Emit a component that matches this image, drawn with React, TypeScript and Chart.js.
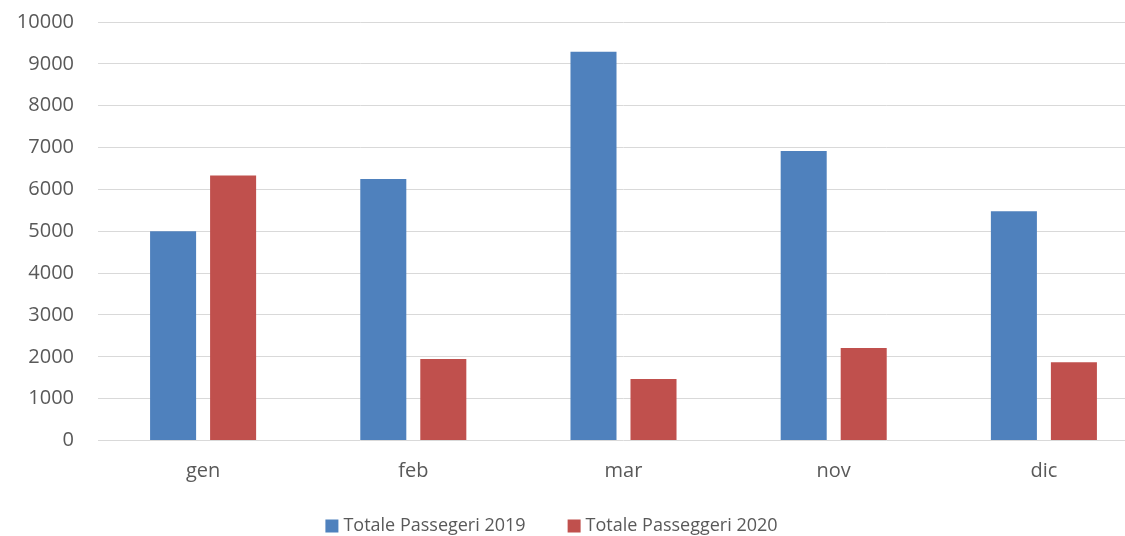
import React, { useEffect, useRef } from "react";
import { Chart, registerables } from "chart.js";

Chart.register(...registerables);

const categories = ["gen", "feb", "mar", "nov", "dic"];
const series2019 = [5000, 6250, 9290, 6920, 5480];
const series2020 = [6330, 1950, 1470, 2210, 1870];
const seriesNames = ["Totale Passegeri 2019", "Totale Passeggeri 2020"];
const seriesColors = ["#4f81bd", "#c0504d"];
const yMin = 0;
const yMax = 10000;
const yStep = 1000;

const FONT_FAMILY = "'Open Sans', sans-serif";
const SHIFT = 14;

const bottomLegend = {
  id: "bottomLegend",
  afterDraw(chart: any) {
    const ctx = chart.ctx as CanvasRenderingContext2D;
    const size = 18;
    const box = 13;
    const boxGap = 5;
    const itemGap = 42;
    const centerX = 551.5;
    const centerY = 526 + SHIFT;
    ctx.save();
    ctx.font = `${size}px ${FONT_FAMILY}`;
    const items = chart.data.datasets.map((d: any) => ({
      label: d.label as string,
      color: d.backgroundColor as string,
      w: box + boxGap + ctx.measureText(d.label).width,
    }));
    const total = items.reduce((a: number, it: any) => a + it.w, 0) + itemGap * (items.length - 1);
    let x = centerX - total / 2;
    ctx.textBaseline = "middle";
    ctx.textAlign = "left";
    for (const it of items) {
      ctx.fillStyle = it.color;
      ctx.fillRect(x, centerY - box / 2, box, box);
      ctx.fillStyle = "#595959";
      ctx.fillText(it.label, x + box + boxGap, centerY);
      x += it.w + itemGap;
    }
    ctx.restore();
  },
};

export default function App() {
  const ref = useRef<HTMLCanvasElement | null>(null);
  useEffect(() => {
    document.body.style.margin = "0";
    document.body.style.overflow = "hidden";
    const ctx = ref.current!;
    const tickFont = { family: FONT_FAMILY, size: 20 };
    const chart = new Chart(ctx, {
      type: "bar",
      data: {
        labels: categories,
        datasets: [
          {
            label: seriesNames[0],
            data: series2019,
            backgroundColor: seriesColors[0],
            categoryPercentage: 0.571,
            barPercentage: 0.767,
          },
          {
            label: seriesNames[1],
            data: series2020,
            backgroundColor: seriesColors[1],
            categoryPercentage: 0.571,
            barPercentage: 0.767,
          },
        ],
      },
      plugins: [bottomLegend],
      options: {
        animation: false,
        responsive: false,
        maintainAspectRatio: false,
        layout: { padding: { top: 0, right: 0, bottom: 0, left: 0 } },
        plugins: {
          tooltip: { enabled: false },
          legend: { display: false },
        },
        scales: {
          x: {
            grid: { display: false, drawTicks: false },
            border: { display: false },
            ticks: { color: "#595959", font: tickFont, padding: 19 },
            afterFit: (s: any) => {
              s.height = 95.5;
            },
          },
          y: {
            min: yMin,
            max: yMax,
            grid: { color: "#d9d9d9", lineWidth: 1, drawTicks: false },
            border: { display: false },
            ticks: {
              stepSize: yStep,
              color: "#595959",
              font: tickFont,
              padding: 24,
              callback: (v: any) => String(v),
            },
            afterFit: (s: any) => {
              s.width = 98;
            },
          },
        },
      },
    });
    return () => chart.destroy();
  }, []);
  return (
    <div style={{ width: 1125, height: 536, overflow: "hidden", position: "relative" }}>
      <canvas
        ref={ref}
        width={1149}
        height={536 + SHIFT}
        style={{ display: "block", position: "absolute", left: 0, top: -SHIFT }}
      />
    </div>
  );
}
